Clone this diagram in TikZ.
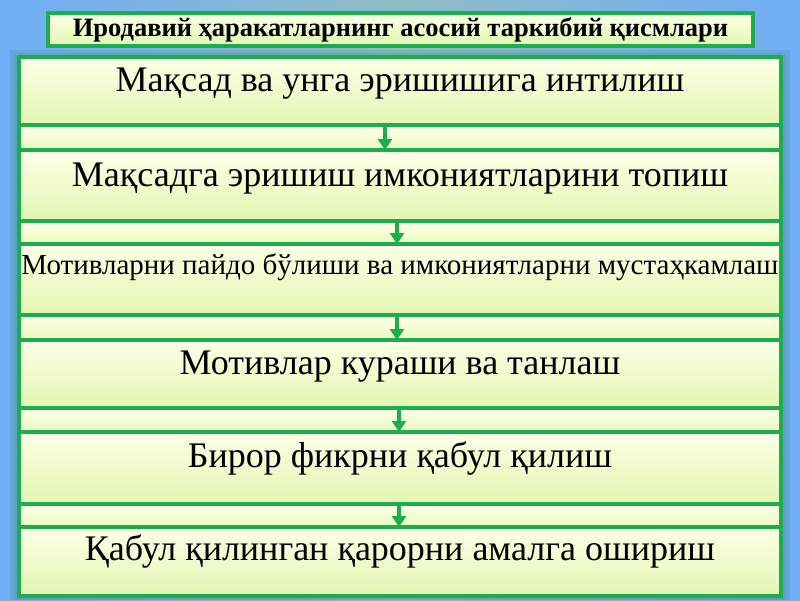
\documentclass[tikz,border=0pt]{standalone}
\usepackage{fontspec}
\setmainfont{Liberation Serif}
\usepackage{tikz}
\usetikzlibrary{positioning,arrows.meta,shadows}
\definecolor{frame}{HTML}{1DAC4E}
\definecolor{paletop}{HTML}{FCFFE6}
\definecolor{palebot}{HTML}{E2F6B2}
\definecolor{sky}{HTML}{70AEF6}
\definecolor{haze}{HTML}{8DBDC4}

\begin{document}
\begin{tikzpicture}[x=1pt, y=-1pt, node distance=0pt,
    stage/.style={draw=frame, line width=4pt, top color=paletop, bottom color=palebot,
      minimum width=762pt, inner xsep=0pt, inner ysep=0pt, outer sep=0pt,
      text height=34pt, font=\fontsize{36}{40}\selectfont},
    strip/.style={draw=frame, line width=4pt, top color=paletop, bottom color=palebot!70!paletop,
      minimum width=762pt, inner sep=0pt, outer sep=0pt},
    headbox/.style={draw=frame, line width=3.5pt, top color=paletop, bottom color=palebot,
      minimum width=705pt, minimum height=33pt, inner sep=0pt, outer sep=0pt,
      drop shadow={opacity=0.3, shadow xshift=1pt, shadow yshift=-2pt},
      font=\bfseries\fontsize{26.5}{28}\selectfont},
    link/.style={draw=frame, line width=3.5pt, -{Triangle[width=14pt,length=11pt]}}]

    \useasboundingbox (0,0) rectangle (800,600);
    \fill[left color=sky, right color=sky, middle color=haze] (0,0) rectangle (800,600);
    \fill[black!30!frame, opacity=0.12] (10,50) rectangle (790,600);
    \fill[black!30!frame, opacity=0.12] (14,53) rectangle (786,600);

    \node[headbox] (title) at (400.5,29.5) {Иродавий ҳаракатларнинг асосий таркибий қисмлари};

    \node[stage, text depth=34pt, anchor=north] (b1) at (400,57) {Мақсад ва унга эришишига интилиш};
    \node[strip, minimum height=25pt, below=of b1] (s1) {};
    \node[stage, text depth=35pt, text height=36pt, below=of s1] (b2) {Мақсадга эришиш имкониятларини топиш};
    \node[strip, minimum height=23pt, below=of b2] (s2) {};
    \node[stage, text depth=41pt, text height=30pt, font=\fontsize{29}{32}\selectfont, below=of s2] (b3) {Мотивларни пайдо бўлиши ва имкониятларни мустаҳкамлаш};
    \node[strip, minimum height=25pt, below=of b3] (s3) {};
    \node[stage, text depth=34pt, below=of s3] (b4) {Мотивлар кураши ва танлаш};
    \node[strip, minimum height=24pt, below=of b4] (s4) {};
    \node[stage, text depth=37pt, text height=35pt, below=of s4] (b5) {Бирор фикрни қабул қилиш};
    \node[strip, minimum height=23pt, below=of b5] (s5) {};
    \node[stage, text depth=36pt, text height=33pt, below=of s5] (b6) {Қабул қилинган қарорни амалга ошириш};

    \draw[link] ([xshift=-15pt]b1.south) -- ([xshift=-15pt]b2.north);
    \draw[link] ([xshift=-3pt]b2.south) -- ([xshift=-3pt]b3.north);
    \draw[link] ([xshift=-3pt]b3.south) -- ([xshift=-3pt]b4.north);
    \draw[link] ([xshift=-1pt]b4.south) -- ([xshift=-1pt]b5.north);
    \draw[link] ([xshift=-1pt]b5.south) -- ([xshift=-1pt]b6.north);
\end{tikzpicture}
\end{document}
